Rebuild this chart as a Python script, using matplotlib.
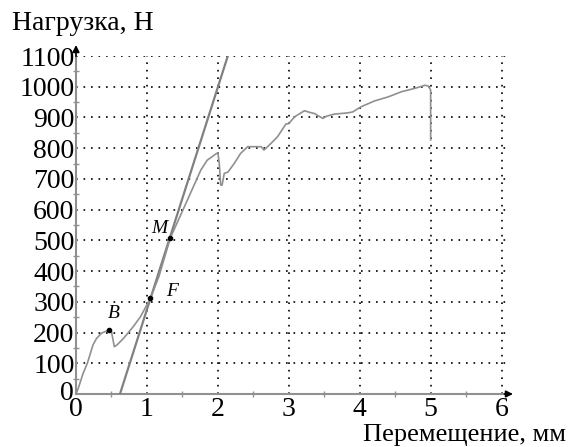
import numpy as np
import matplotlib.pyplot as plt
from matplotlib.ticker import MultipleLocator, FuncFormatter

plt.rcParams['font.family'] = 'serif'
plt.rcParams['font.serif'] = ['Liberation Serif', 'DejaVu Serif']

# load-displacement curve (mm, N)
disp = [0.0, 0.03, 0.10, 0.16, 0.24, 0.29, 0.36, 0.47, 0.50, 0.54, 0.58, 0.67,
        0.81, 0.91, 1.00, 1.05, 1.17, 1.33, 1.57, 1.76, 1.85, 1.97, 2.00, 2.02,
        2.04, 2.06, 2.09, 2.14, 2.23, 2.32, 2.42, 2.51, 2.61, 2.65, 2.75, 2.84,
        2.96, 3.00, 3.08, 3.22, 3.29, 3.36, 3.48, 3.53, 3.64, 3.83, 3.90, 4.02,
        4.21, 4.40, 4.59, 4.78, 4.92, 4.97, 5.00, 5.00]
load = [0, 17, 67, 100, 160, 181, 198, 209, 203, 154, 160, 181,
        220, 252, 290, 312, 383, 508, 631, 729, 761, 781, 785, 750,
        680, 680, 718, 722, 750, 783, 805, 805, 805, 794, 816, 837,
        879, 880, 902, 922, 917, 913, 897, 904, 911, 915, 918, 935,
        954, 967, 984, 995, 1005, 1002, 989, 827]

# tangent line
line_x = [0.62, 2.14]
line_y = [0, 1100]

# marked points
pt_names = ['B', 'F', 'M']
pt_x = [0.47, 1.05, 1.33]
pt_y = [209, 312, 508]
lbl_x = [0.53, 1.36, 1.17]
lbl_y = [262, 333, 540]

fig = plt.figure(figsize=(5.68, 4.47), dpi=100)
ax = fig.add_axes([0.1338, 0.1186, 0.758, 0.756])

ax.plot(line_x, line_y, color='#808080', lw=1.6, zorder=3)
ax.plot(disp, load, color='#909090', lw=1.2, zorder=4)
ax.scatter(pt_x, pt_y, s=9, color='black', zorder=5)
for n, x, y in zip(pt_names, lbl_x, lbl_y):
    ax.text(x, y, n, fontsize=14, style='italic', ha='center', va='center')

ax.set_xlim(0, 6.07)
ax.set_ylim(0, 1100)
ax.xaxis.set_major_locator(MultipleLocator(1))
ax.yaxis.set_major_locator(MultipleLocator(100))
ax.xaxis.set_minor_locator(MultipleLocator(0.5))
ax.yaxis.set_minor_locator(MultipleLocator(50))
# y "0" is drawn separately, a touch above the axis
ax.yaxis.set_major_formatter(FuncFormatter(lambda v, p: '' if v == 0 else '%d' % v))
ax.text(-0.035, 12, '0', fontsize=20, ha='right', va='center_baseline')
ax.grid(True, which='major', color='black', linestyle=(0, (1, 3.5)), lw=1.2)
ax.tick_params(which='both', direction='inout', color='#909090', labelsize=20)
ax.tick_params(axis='y', which='major', length=0, pad=1)
ax.tick_params(axis='x', which='major', length=0, pad=2)
ax.tick_params(which='minor', length=5, width=1)
for s in ['top', 'right']:
    ax.spines[s].set_visible(False)
for s in ['left', 'bottom']:
    ax.spines[s].set_color('#909090')
    ax.spines[s].set_linewidth(1.5)

ax.annotate('', xy=(0, 1145), xytext=(0, 1090), xycoords='data',
            arrowprops=dict(arrowstyle='-|>', color='black', lw=1.2), annotation_clip=False)
ax.annotate('', xy=(6.2, 0), xytext=(6.0, 0), xycoords='data',
            arrowprops=dict(arrowstyle='-|>', color='black', lw=1.2), annotation_clip=False)

fig.text(0.022, 0.948, 'Нагрузка, Н', fontsize=20, ha='left', va='center')
fig.text(0.997, 0.003, 'Перемещение, мм', fontsize=19, ha='right', va='bottom')

fig.savefig('out.png', dpi=100)
